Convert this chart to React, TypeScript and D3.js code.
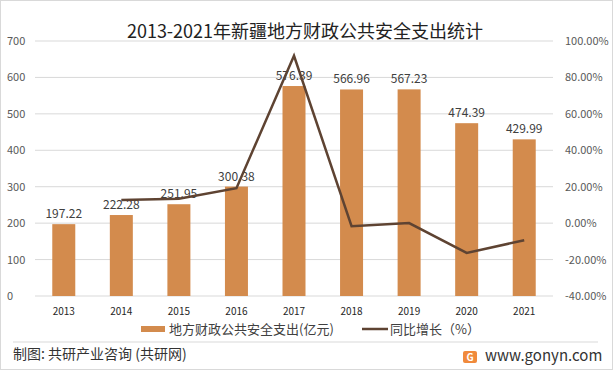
import React from "react";
import * as d3 from "d3";

const years = ["2013", "2014", "2015", "2016", "2017", "2018", "2019", "2020", "2021"];
const spending = [197.22, 222.28, 251.95, 300.38, 576.39, 566.96, 567.23, 474.39, 429.99];
const growth = [null, 12.7, 13.35, 19.22, 91.89, -1.64, 0.05, -16.37, -9.36];
const leftTicks = [0, 100, 200, 300, 400, 500, 600, 700];
const rightTicks = [-40, -20, 0, 20, 40, 60, 80, 100];

const W = 613, H = 370;
const plotL = 35, plotR = 553, plotT = 41, plotB = 296;
const FONT = "'Noto Sans CJK SC', 'Noto Sans', sans-serif";

export default function App() {
  const x = d3.scaleBand<string>().domain(years).range([plotL, plotR]).paddingInner(0.6).paddingOuter(0.3);
  const xc = (y: string) => (x(y) as number) + x.bandwidth() / 2;
  const yL = d3.scaleLinear().domain([0, 700]).range([plotB, plotT]);
  const yR = d3.scaleLinear().domain([-40, 100]).range([plotB, plotT]);
  const bw = 23;
  const lineGen = d3.line<[string, number | null]>()
    .defined(d => d[1] !== null)
    .x(d => xc(d[0]))
    .y(d => yR(d[1] as number));
  const pts = years.map((y, i) => [y, growth[i]] as [string, number | null]);
  return (
    <svg width={W} height={H} style={{ position: "absolute", left: 0, top: 0 }} fontFamily={FONT}>
      <rect x={0.5} y={0.5} width={W - 1} height={H - 1} fill="#fff" stroke="#d9d9d9" />
      <text x={305} y={38} textAnchor="middle" fontSize={18} fill="#222">2013-2021年新疆地方财政公共安全支出统计</text>
      {leftTicks.map(t => (
        <line key={t} x1={plotL} x2={plotR} y1={yL(t)} y2={yL(t)} stroke="#d9d9d9" strokeWidth={1} />
      ))}
      {leftTicks.map(t => (
        <text key={t} x={7} y={yL(t) + 4} fontSize={11} fill="#595959">{t}</text>
      ))}
      {rightTicks.map(t => (
        <text key={t} x={565} y={yR(t) + 4} fontSize={11} fill="#595959">{t.toFixed(2)}%</text>
      ))}
      {years.map((y, i) => (
        <g key={y}>
          <rect x={xc(y) - bw / 2} y={yL(spending[i])} width={bw} height={plotB - yL(spending[i])} fill="#D38B4D" />
          <text x={xc(y)} y={yL(spending[i]) - 6} textAnchor="middle" fontSize={12} fill="#404040">{spending[i].toFixed(2)}</text>
          <text x={xc(y)} y={315} textAnchor="middle" fontSize={10} fill="#262626">{y}</text>
        </g>
      ))}
      <path d={lineGen(pts) || ""} fill="none" stroke="#5E4332" strokeWidth={2.5} />
      <rect x={141} y={326} width={24} height={6} fill="#D38B4D" />
      <text x={169} y={334} fontSize={13} fill="#404040">地方财政公共安全支出(亿元)</text>
      <line x1={362} x2={388} y1={329} y2={329} stroke="#5E4332" strokeWidth={2.5} />
      <text x={390} y={334} fontSize={13} fill="#404040">同比增长（%）</text>
      <line x1={13} x2={598} y1={342} y2={342} stroke="#d9d9d9" />
      <text x={13} y={359} fontSize={14} fill="#333">制图: 共研产业咨询 (共研网)</text>
      <g>
        <rect x={463} y={351} width={14} height={12} rx={2} fill="#F08A3C" />
        <text x={470} y={361} textAnchor="middle" fontSize={10} fontWeight="bold" fill="#fff">G</text>
      </g>
      <text x={485} y={361} fontSize={15} fill="#333">www.gonyn.com</text>
    </svg>
  );
}
